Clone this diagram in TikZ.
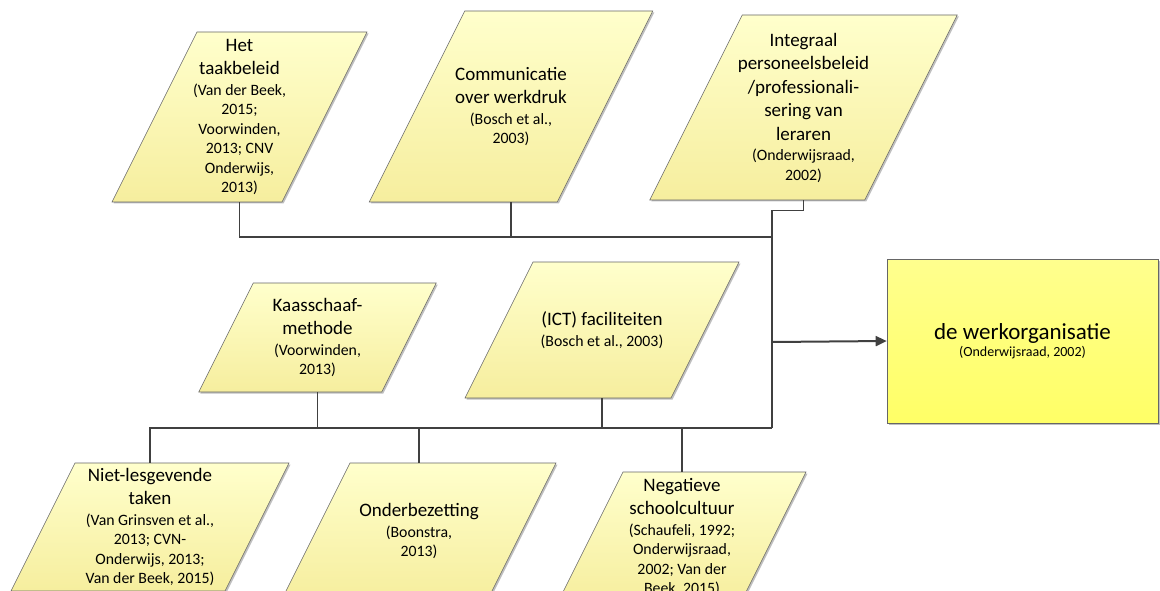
\documentclass[tikz,border=0pt]{standalone}
\usepackage{fontspec}
\setmainfont{Carlito}
\usetikzlibrary{arrows.meta,shadows}

\definecolor{lichtgeel}{HTML}{FFFFCC}
\definecolor{donkergeel}{HTML}{F6EE9E}
\definecolor{doelboven}{HTML}{FFFF8E}
\definecolor{doelonder}{HTML}{FFFF66}
\definecolor{lijngrijs}{HTML}{404040}

% parallelogram: name, x, y, width, height, text
\newcommand{\vlak}[6]{%
    \draw[vlakstijl, shift={(#2,#3)}, xslant=0.5] (-#4/2,-#5/2) rectangle (#4/2,#5/2);
    \node[tekst, minimum width=#4pt, minimum height=#5pt] (#1) at (#2,#3) {#6};
}
\newcommand{\kop}{\fontsize{19}{23}\selectfont}
\newcommand{\bron}{\fontsize{15.8}{19.5}\selectfont}

\begin{document}
\begin{tikzpicture}[x=1pt, y=-1pt,
    vlakstijl/.style={draw=black!60, line width=0.6pt, top color=lichtgeel, bottom color=donkergeel,
        drop shadow={shadow xshift=1.5pt, shadow yshift=-1.5pt, opacity=0.25, fill=black}},
    tekst/.style={inner sep=0pt, align=center, text=black, font=\bron},
    lijn/.style={draw=lijngrijs, line width=1.3pt},
    stam/.style={draw=lijngrijs, line width=1.8pt},
    pijl/.style={draw=lijngrijs, line width=2pt, -{Triangle[length=11pt, width=10pt]}}]
    \path[use as bounding box, clip] (0,0) rectangle (1160,591);

    % bovenste rij
    \vlak{het}{239.5}{117}{170}{170}{\kop Het\\[4pt]\kop taakbeleid\\[1pt](Van der Beek,\\2015;\\Voorwinden,\\2013; CNV\\Onderwijs,\\2013)}
    \vlak{comm}{511}{106.5}{188}{191}{\kop Communicatie\\[4pt]\kop over werkdruk\\[1pt](Bosch et al.,\\2003)}
    \vlak{integ}{803.5}{107.5}{215}{185}{\kop Integraal\\[4pt]\kop personeelsbeleid\\[4pt]\kop /professionali-\\[4pt]\kop sering van\\[4pt]\kop leraren\\[1pt](Onderwijsraad,\\2002)}

    % middelste rij
    \vlak{kaas}{317.5}{337.5}{183}{109}{\kop Kaasschaaf-\\[4pt]\kop methode\\[1pt](Voorwinden,\\2013)}
    \vlak{ict}{602}{330}{206}{136}{\kop (ICT) faciliteiten\\[1pt](Bosch et al., 2003)}

    % onderste rij
    \vlak{niet}{150}{527}{214}{128}{\kop Niet-lesgevende\\[4pt]\kop taken\\[1pt](Van Grinsven et al.,\\2013; CVN-\\Onderwijs, 2013;\\Van der Beek, 2015)}
    \vlak{onder}{419}{531}{206}{136}{\kop Onderbezetting\\[1pt](Boonstra,\\2013)}
    \vlak{neg}{682}{537}{183}{130}{\kop Negatieve\\[4pt]\kop schoolcultuur\\[1pt](Schaufeli, 1992;\\Onderwijsraad,\\2002; Van der\\Beek, 2015)}

    % doel
    \node[draw=black!60, line width=0.6pt, top color=doelboven, bottom color=doelonder,
        drop shadow={shadow xshift=1.5pt, shadow yshift=-1.5pt, opacity=0.25, fill=black},
        minimum width=271pt, minimum height=164pt, align=center, font=\fontsize{14}{17}\selectfont] (doel) at (1022.5,341)
        {\fontsize{23}{26}\selectfont de werkorganisatie\\[0pt](Onderwijsraad, 2002)};

    \coordinate (tophub) at (772,237);
    \coordinate (knik) at (772,210);
    \coordinate (pijlstart) at (772,342);
    \coordinate (lowhub) at (772,428);

    % verbindingen
    \draw[lijn] (het.south) |- (tophub);
    \draw[lijn] (comm.south) -- (comm.south |- tophub);
    \draw[lijn, line width=1pt] (integ.south) |- (knik);
    \draw[stam] (knik) -- (lowhub);
    \draw[pijl] (pijlstart) -- (doel.west);

    \draw[lijn] (niet.north) |- (lowhub);
    \draw[lijn] (kaas.south) -- (kaas.south |- lowhub);
    \draw[lijn] (ict.south) -- (ict.south |- lowhub);
    \draw[lijn] (onder.north) -- (onder.north |- lowhub);
    \draw[lijn] (neg.north) -- (neg.north |- lowhub);
\end{tikzpicture}
\end{document}
